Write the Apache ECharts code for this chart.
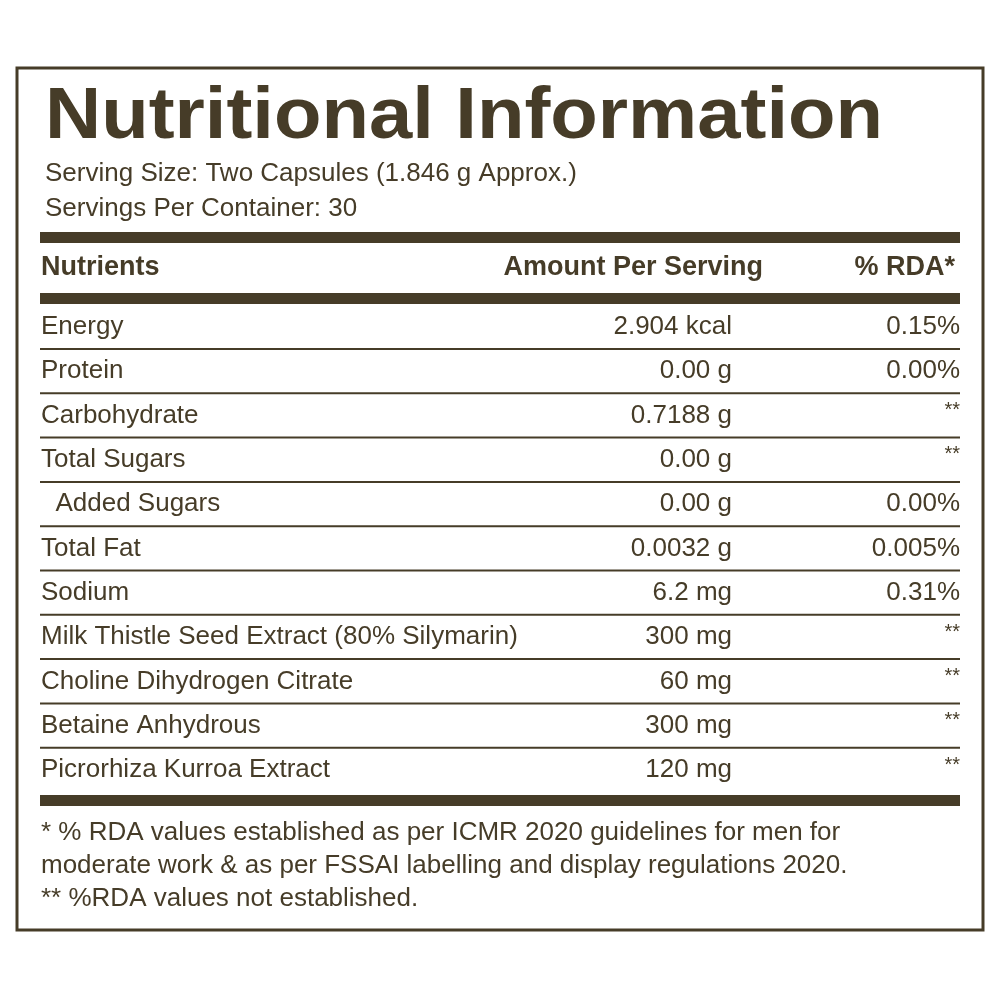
<!DOCTYPE html>
<html><head><meta charset="utf-8">
<script src="https://cdn.jsdelivr.net/npm/echarts@6/dist/echarts.min.js"></script>
<style>html,body{margin:0;padding:0;background:#fff}#c{width:1000px;height:1000px}</style>
</head><body><div id="c"></div>
<script>
const title = "Nutritional Information";
const servingLines = ["Serving Size: Two Capsules (1.846 g Approx.)", "Servings Per Container: 30"];
const headers = ["Nutrients", "Amount Per Serving", "% RDA*"];
const nutrients = ["Energy","Protein","Carbohydrate","Total Sugars","  Added Sugars","Total Fat","Sodium","Milk Thistle Seed Extract (80% Silymarin)","Choline Dihydrogen Citrate","Betaine Anhydrous","Picrorhiza Kurroa Extract"];
const amounts = ["2.904 kcal","0.00 g","0.7188 g","0.00 g","0.00 g","0.0032 g","6.2 mg","300 mg","60 mg","300 mg","120 mg"];
const rda = ["0.15%","0.00%","**","**","0.00%","0.005%","0.31%","**","**","**","**"];
const footnotes = ["* % RDA values established as per ICMR 2020 guidelines for men for","moderate work & as per FSSAI labelling and display regulations 2020.","** %RDA values not established."];

const C = "#463c28", F = "'Liberation Sans', Arial, sans-serif";
const g = [];
g.push({type:'rect',shape:{x:17,y:68,width:966,height:862},style:{fill:'none',stroke:C,lineWidth:3}});
g.push({type:'text',x:45,y:118,scaleX:1.08,style:{text:title,font:"bold 72px "+F,fill:C,textVerticalAlign:'middle'}});
servingLines.forEach((t,i)=>g.push({type:'text',x:45,y:174+i*35,style:{text:t,font:"26px "+F,fill:C,textVerticalAlign:'middle'}}));
const bar = y=>g.push({type:'rect',shape:{x:40,y:y,width:920,height:11},style:{fill:C}});
bar(232); bar(293); bar(795);
g.push({type:'text',x:41,y:268,style:{text:headers[0],font:"bold 27px "+F,fill:C,textVerticalAlign:'middle'}});
g.push({type:'text',x:763,y:268,style:{text:headers[1],font:"bold 27px "+F,fill:C,textAlign:'right',textVerticalAlign:'middle'}});
g.push({type:'text',x:955,y:268,style:{text:headers[2],font:"bold 27px "+F,fill:C,textAlign:'right',textVerticalAlign:'middle'}});
const y0=327, dy=44.3;
nutrients.forEach((n,i)=>{
  const y=y0+i*dy;
  g.push({type:'text',x:41,y:y,style:{text:n,font:"26px "+F,fill:C,textVerticalAlign:'middle'}});
  g.push({type:'text',x:732,y:y,style:{text:amounts[i],font:"26px "+F,fill:C,textAlign:'right',textVerticalAlign:'middle'}});
  const st = rda[i]==="**";
  g.push({type:'text',x:960,y:st?y-5:y,style:{text:rda[i],font:(st?"20px ":"26px ")+F,fill:C,textAlign:'right',textVerticalAlign:'middle'}});
  if(i<nutrients.length-1) g.push({type:'rect',shape:{x:40,y:y+21,width:920,height:2},style:{fill:C}});
});
footnotes.forEach((t,i)=>g.push({type:'text',x:41,y:833+i*33,style:{text:t,font:"26px "+F,fill:C,textVerticalAlign:'middle'}}));
const chart = echarts.init(document.getElementById('c'));
chart.setOption({backgroundColor:'#fff',animation:false,graphic:{elements:g}});
</script></body></html>
